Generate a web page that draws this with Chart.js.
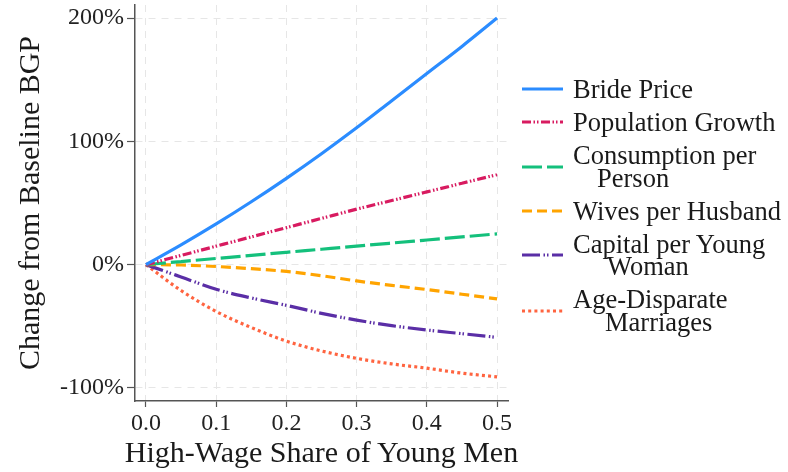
<!DOCTYPE html>
<html>
<head>
<meta charset="utf-8">
<script src="https://cdn.jsdelivr.net/npm/chart.js@4/dist/chart.umd.min.js"></script>
<style>
  html, body { margin: 0; padding: 0; background: #fff; }
  #wrap { position: relative; width: 788px; height: 472px; }
  #legend { position: absolute; left: 522px; top: 78px; font-family: "Liberation Serif", serif; font-size: 26.5px; color: #1a1a1a; }
  .item { display: flex; align-items: center; margin-bottom: 10.5px; }
  .item svg { flex: none; margin-right: 10px; }
  .txt { line-height: 22.5px; white-space: nowrap; }
  .txt span { display: block; }
  #xtitle { position: absolute; left: 0; width: 643px; top: 437px; line-height: 30px; text-align: center; font-family: "Liberation Serif", serif; font-size: 30px; color: #1a1a1a; white-space: nowrap; }
</style>
</head>
<body>
<div id="wrap">
  <canvas id="c" width="788" height="472"></canvas>
  <div id="xtitle"></div>
  <div id="legend"></div>
</div>
<script>
const xValues = [0, 0.05, 0.1, 0.15, 0.2, 0.25, 0.3, 0.35, 0.4, 0.45, 0.5];
const bridePrice = [0, 16, 33, 51, 70, 90, 111, 133, 155, 177, 200];
const populationGrowth = [0, 7.5, 15, 22.5, 30, 37.5, 45, 52, 59, 66, 73];
const consumptionPerPerson = [0, 2.5, 5, 7.5, 10, 12.5, 15, 17.5, 20, 22.5, 25];
const wivesPerHusband = [0, -0.3, -1.5, -3.3, -5.5, -9, -13.2, -16.8, -20.2, -24, -27.8];
const capitalPerYoungWoman = [0, -10, -20, -27, -33, -39.5, -45, -49.5, -53, -56, -59];
const ageDisparateMarriages = [0, -21, -38, -51, -62, -70, -76, -80.5, -84, -88, -91];
const xTicks = [0, 0.1, 0.2, 0.3, 0.4, 0.5];
const yTicks = [-100, 0, 100, 200];
const seriesNames = [["Bride Price"], ["Population Growth"], ["Consumption per", "Person"], ["Wives per Husband"], ["Capital per Young", "Woman"], ["Age-Disparate", "Marriages"]];
const xTitle = 'High-Wage Share of Young Men';
const yTitle = 'Change from Baseline BGP';

const styles = [
  { color: '#2b8cff', dash: [] },
  { color: '#d81b60', dash: [9, 2.5, 1.5, 2, 1.5, 2.5] },
  { color: '#14c07c', dash: [20, 5] },
  { color: '#ffa400', dash: [10, 5] },
  { color: '#5a2ea6', dash: [18, 3.5, 1.5, 2, 1.5, 3.5] },
  { color: '#ff6440', dash: [3, 3.2] }
];
const seriesValues = [bridePrice, populationGrowth, consumptionPerPerson, wivesPerHusband, capitalPerYoungWoman, ageDisparateMarriages];

const datasets = seriesValues.map((vals, i) => ({
  label: seriesNames[i].join(' '),
  data: vals.map((v, j) => ({ x: xValues[j], y: v })),
  borderColor: styles[i].color,
  borderDash: styles[i].dash,
  borderWidth: 3.2,
  pointRadius: 0,
  fill: false,
  cubicInterpolationMode: 'monotone',
  borderCapStyle: 'butt'
}));

const font = "'Liberation Serif', serif";
new Chart(document.getElementById('c'), {
  type: 'line',
  data: { datasets },
  options: {
    responsive: false,
    animation: false,
    events: [],
    layout: { padding: { left: 0, top: 5, right: 280, bottom: 0 } },
    plugins: { legend: { display: false }, tooltip: { enabled: false } },
    scales: {
      x: {
        type: 'linear', min: -0.0156, max: 0.5156,
        afterFit: s => { s.height = 71; s.paddingLeft = 0; s.paddingRight = 0; },
        afterBuildTicks: s => { s.ticks = xTicks.map(v => ({ value: v })); },
        ticks: { font: { family: font, size: 24 }, color: '#222', padding: 2, maxRotation: 0, callback: v => Number(v).toFixed(1) },
        grid: { color: '#e6e6e6', lineWidth: 1, tickLength: 6, tickColor: '#555', tickWidth: 1.2, tickBorderDash: [] },
        border: { display: true, color: '#555', width: 1.5, dash: [7, 6] },
        title: { display: false }
      },
      y: {
        type: 'linear', min: -110.6, max: 210.6,
        afterFit: s => { s.width = 135; s.paddingTop = 0; s.paddingBottom = 0; },
        afterBuildTicks: s => { s.ticks = yTicks.map(v => ({ value: v })); },
        ticks: { font: { family: font, size: 24 }, color: '#222', padding: 3, callback: v => v + '%' },
        grid: { color: '#e6e6e6', lineWidth: 1, tickLength: 8, tickColor: '#555', tickWidth: 1.2, tickBorderDash: [] },
        border: { display: true, color: '#555', width: 1.5, dash: [7, 6] },
        title: { display: true, text: yTitle, font: { family: font, size: 30 }, color: '#1a1a1a', padding: { top: 13, bottom: 0 } }
      }
    }
  }
});

document.getElementById('xtitle').textContent = xTitle;

// HTML legend built from the dataset styles
const legend = document.getElementById('legend');
const indents = [0, 0, 24, 0, 34, 32];
seriesNames.forEach((lines, i) => {
  const item = document.createElement('div');
  item.className = 'item';
  const svgNS = 'http://www.w3.org/2000/svg';
  const svg = document.createElementNS(svgNS, 'svg');
  svg.setAttribute('width', '41'); svg.setAttribute('height', '6');
  const ln = document.createElementNS(svgNS, 'line');
  ln.setAttribute('x1', '0'); ln.setAttribute('y1', '3'); ln.setAttribute('x2', '41'); ln.setAttribute('y2', '3');
  ln.setAttribute('stroke', styles[i].color); ln.setAttribute('stroke-width', '3.2');
  if (styles[i].dash.length) ln.setAttribute('stroke-dasharray', styles[i].dash.join(' '));
  svg.appendChild(ln);
  const txt = document.createElement('div');
  txt.className = 'txt';
  lines.forEach((t, k) => {
    const sp = document.createElement('span');
    sp.textContent = t;
    if (k > 0) sp.style.paddingLeft = indents[i] + 'px';
    txt.appendChild(sp);
  });
  item.appendChild(svg); item.appendChild(txt);
  legend.appendChild(item);
});
</script>
</body>
</html>
